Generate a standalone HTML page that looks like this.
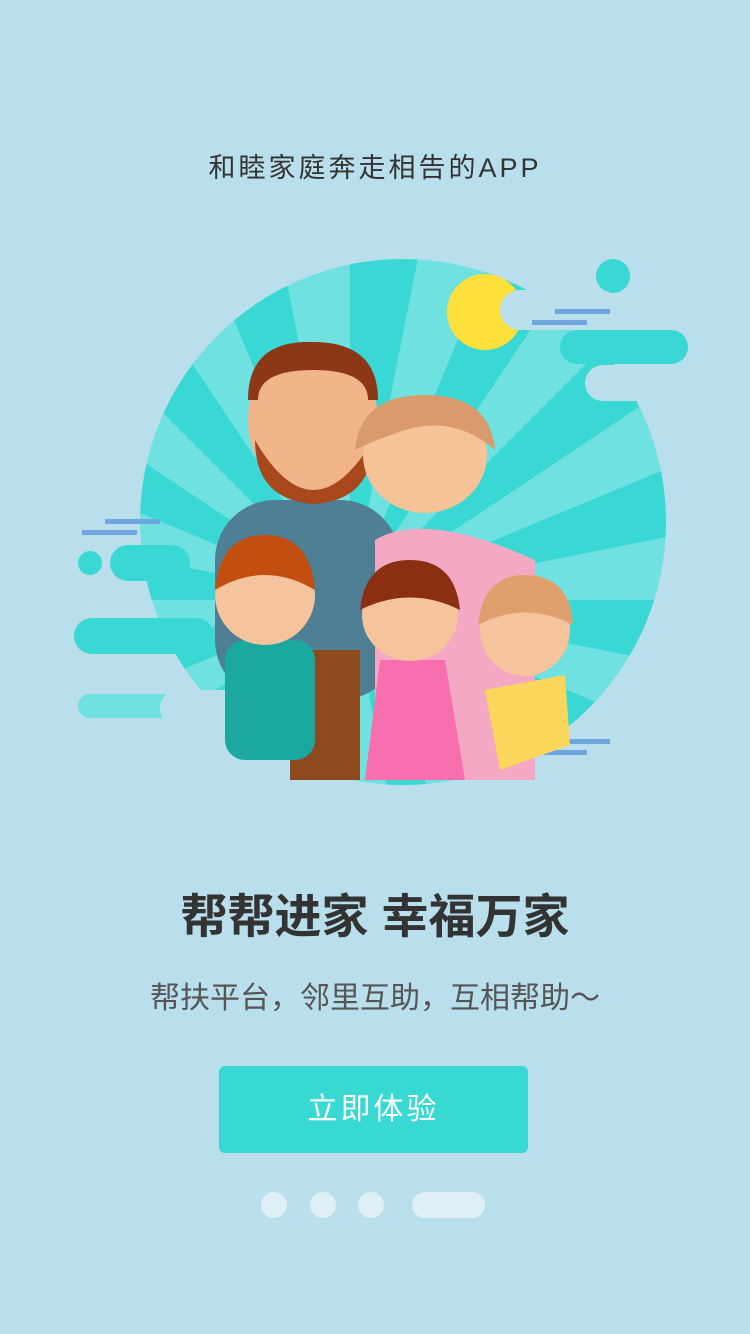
<!DOCTYPE html>
<html><head><meta charset="utf-8"><style>
body{margin:0;width:750px;height:1334px;background:#badfec;position:relative;overflow:hidden;font-family:"Liberation Sans","Noto Sans CJK SC",sans-serif}
.t{position:absolute;left:0;width:750px;text-align:center}
</style></head><body>
<div class="t" style="top:146px;font-size:27px;color:#333;letter-spacing:3px">和睦家庭奔走相告的APP</div>
<svg width="750" height="820" style="position:absolute;left:0;top:0">
<defs><clipPath id="c"><circle cx="403" cy="522" r="263"/></clipPath></defs>
<circle cx="403" cy="522" r="263" fill="#6fe1e0"/>
<g id="rays" clip-path="url(#c)"></g>
<circle cx="485" cy="312" r="38" fill="#fde03a"/>
<circle cx="613" cy="276" r="17" fill="#3ad8d4"/>
<rect x="500" y="290" width="120" height="40" rx="20" fill="#badfec"/>
<rect x="585" y="365" width="140" height="36" rx="18" fill="#badfec"/>
<rect x="560" y="330" width="128" height="34" rx="17" fill="#3ad8d4"/>
<rect x="110" y="545" width="80" height="36" rx="18" fill="#3ad8d4"/>
<rect x="74" y="618" width="140" height="36" rx="18" fill="#3ad8d4"/>
<rect x="78" y="694" width="130" height="24" rx="12" fill="#6fe1e0"/>
<rect x="160" y="690" width="95" height="36" rx="18" fill="#badfec"/>
<circle cx="90" cy="563" r="12" fill="#3ad8d4"/>
<g fill="#6fa6e0"><rect x="82" y="530" width="55" height="5"/><rect x="105" y="519" width="55" height="5"/><rect x="532" y="320" width="55" height="5"/><rect x="555" y="309" width="55" height="5"/><rect x="532" y="750" width="55" height="5"/><rect x="555" y="739" width="55" height="5"/></g>
<g>
<rect x="215" y="500" width="185" height="200" rx="60" fill="#4e7f94"/>
<rect x="290" y="650" width="70" height="130" fill="#8c4a1e"/>
<ellipse cx="313" cy="420" rx="65" ry="75" fill="#f2b589"/>
<path d="M248 400 q0-60 65-58 q65 0 65 58 l-10 0 q0-30-55-30 q-55 0-55 30z" fill="#8c3716"/>
<path d="M255 440 q58 100 118 0 q0 60-59 64 q-59-4-59-64z" fill="#a9481c"/>
</g>
<g>
<path d="M375 540 q50-30 160 20 l0 220 l-160 0z" fill="#f5a8c3"/>
<ellipse cx="425" cy="455" rx="62" ry="58" fill="#f6c297"/>
<path d="M355 450 q5-55 70-55 q65 0 70 55 q-40-35-90-20 q-30 10-50 20z" fill="#d99a6c"/>
</g>
<g>
<rect x="225" y="640" width="90" height="120" rx="20" fill="#1aa8a0"/>
<ellipse cx="265" cy="595" rx="50" ry="50" fill="#f5c39c"/>
<path d="M215 590 q5-55 50-55 q45 0 50 55 q-50-30-100 0z" fill="#c24f10"/>
<path d="M380 660 l65 0 l20 120 l-100 0z" fill="#f86fb0"/>
<ellipse cx="410" cy="615" rx="48" ry="46" fill="#f5c39c"/>
<path d="M360 610 q5-50 50-50 q45 0 50 50 q-50-25-100 0z" fill="#8b2f13"/>
<path d="M485 690 l80-15 l5 70 l-70 25z" fill="#fad65a"/>
<ellipse cx="525" cy="630" rx="45" ry="46" fill="#f5c39c"/>
<path d="M478 625 q5-50 47-50 q45 0 48 50 q-48-25-95 0z" fill="#e0a06e"/>
</g>
</svg>
<div class="t" style="top:878px;font-size:47px;font-weight:bold;color:#333">帮帮进家 幸福万家</div>
<div class="t" style="top:973px;font-size:30px;color:#555">帮扶平台，邻里互助，互相帮助～</div>
<div style="position:absolute;left:219px;top:1066px;width:309px;height:87px;background:#38d8d3;border-radius:6px;color:#fff;font-size:30px;line-height:87px;text-align:center;letter-spacing:3px">立即体验</div>
<div style="position:absolute;left:261px;top:1192px;width:26px;height:26px;border-radius:13px;background:#def0f6"></div>
<div style="position:absolute;left:310px;top:1192px;width:26px;height:26px;border-radius:13px;background:#def0f6"></div>
<div style="position:absolute;left:358px;top:1192px;width:26px;height:26px;border-radius:13px;background:#def0f6"></div>
<div style="position:absolute;left:412px;top:1192px;width:73px;height:26px;border-radius:13px;background:#def0f6"></div>
<script>
var g=document.getElementById('rays');
for(var i=0;i<16;i++){
var a1=i*Math.PI/8,a2=a1+Math.PI/16,cx=350,cy=600,R=600;
var p=document.createElementNS('http://www.w3.org/2000/svg','path');


p.setAttribute('d','M'+cx+' '+cy+' L'+(cx+R*Math.cos(a1))+' '+(cy+R*Math.sin(a1))+' L'+(cx+R*Math.cos(a2))+' '+(cy+R*Math.sin(a2))+'Z');
p.setAttribute('fill','#3ad8d4');g.appendChild(p);}
</script>
</body></html>
